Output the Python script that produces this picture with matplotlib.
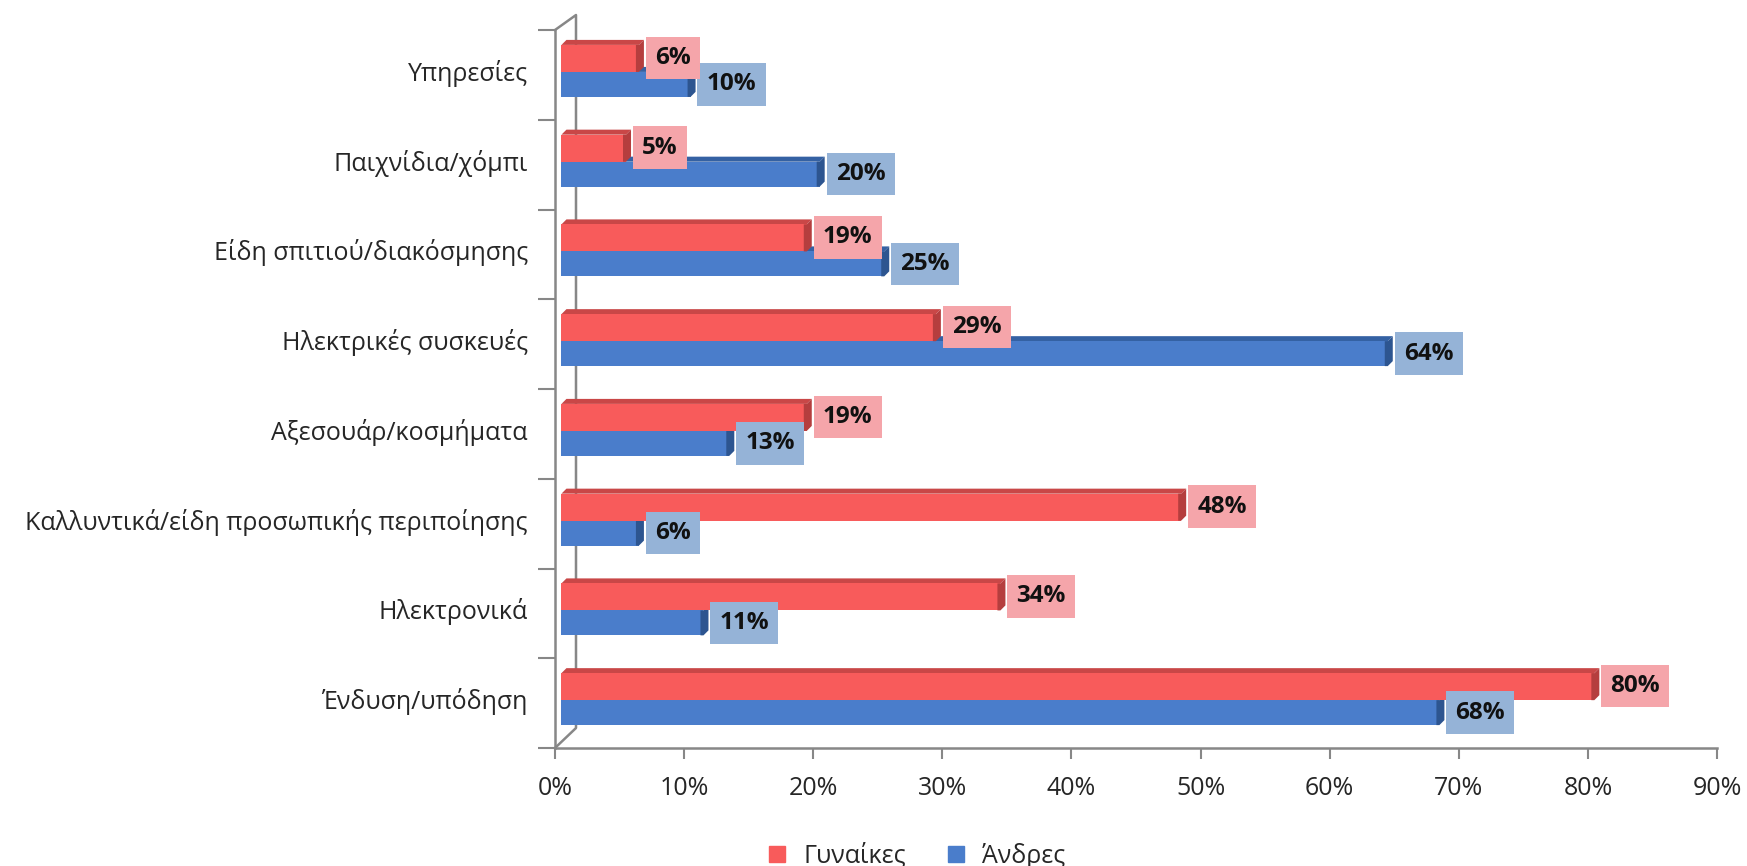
import matplotlib.pyplot as plt
from matplotlib.patches import Polygon
from matplotlib.lines import Line2D
import numpy as np

plt.rcParams['font.family'] = ['Open Sans', 'DejaVu Sans']

# categories listed bottom to top
categories = ['Ένδυση/υπόδηση', 'Ηλεκτρονικά',
              'Καλλυντικά/είδη προσωπικής περιποίησης', 'Αξεσουάρ/κοσμήματα',
              'Ηλεκτρικές συσκευές', 'Είδη σπιτιού/διακόσμησης',
              'Παιχνίδια/χόμπι', 'Υπηρεσίες']
women = [80, 34, 48, 19, 29, 19, 5, 6]
men = [68, 11, 6, 13, 64, 25, 20, 10]
series_names = ['Γυναίκες', 'Άνδρες']
xticks = [0, 10, 20, 30, 40, 50, 60, 70, 80, 90]

W, H = 1747, 866
fig = plt.figure(figsize=(W / 100, H / 100), dpi=100)
x0, x1, y0, y1 = 555, 1717, 30, 748
ax = fig.add_axes([x0 / W, 1 - y1 / H, (x1 - x0) / W, (y1 - y0) / H])
ax.set_xlim(0, 90)
ax.set_ylim(-0.5, len(categories) - 0.5)

px_x = 90 / (x1 - x0)            # data units per pixel, x
px_y = len(categories) / (y1 - y0)  # data units per pixel, y

grey = '#878787'
depth_x, depth_y = 5 * px_x, 5 * px_y
start = 0.5

def bar3d(yb, yt, v, front, top, cap):
    xe = start + v
    ax.add_patch(Polygon([(start, yt), (start + depth_x, yt + depth_y),
                          (xe + depth_x, yt + depth_y), (xe, yt)],
                         closed=True, fc=top, ec='none', zorder=3))
    ax.add_patch(Polygon([(start, yb), (xe, yb), (xe, yt), (start, yt)],
                         closed=True, fc=front, ec='none', zorder=3))
    ax.add_patch(Polygon([(xe - 3 * px_x, yb), (xe, yb),
                          (xe + depth_x, yb + depth_y),
                          (xe + depth_x, yt + depth_y), (xe, yt),
                          (xe - 3 * px_x, yt)],
                         closed=True, fc=cap, ec='none', zorder=3))
    return xe + depth_x

label_kw = dict(textcoords='offset points', ha='left', va='center',
                fontsize=17.5, fontweight='bold', color='#111111')

ypos = np.arange(len(categories))
for i, c in enumerate(ypos):
    # men (lower bar) drawn first, women bar in front of its top face
    xe = bar3d(c - 0.245, c + 0.033, men[i], '#4A7DCB', '#3461A3', '#2D5590')
    ax.annotate(f'{men[i]}%', (xe, c - 0.106), xytext=(8, 0), zorder=5,
                bbox=dict(boxstyle='square,pad=0.38', fc='#95B3D7', ec='none'),
                **label_kw)
    xe = bar3d(c + 0.033, c + 0.334, women[i], '#F85B5B', '#C94747', '#B53E3E')
    ax.annotate(f'{women[i]}%', (xe, c + 0.19), xytext=(8, 0), zorder=6,
                bbox=dict(boxstyle='square,pad=0.38', fc='#F5A5AA', ec='none'),
                **label_kw)

# back wall of the 3-D frame
wx, wy_top, wy_bot = 21 * px_x, 15 * px_y, 20 * px_y
top_y = len(categories) - 0.5
ax.plot([0, wx, wx, 0], [top_y, top_y + wy_top, -0.5 + wy_bot, -0.5],
        color=grey, lw=1.8, clip_on=False, zorder=2)

for side in ['top', 'right']:
    ax.spines[side].set_visible(False)
for side in ['left', 'bottom']:
    ax.spines[side].set_color(grey)
    ax.spines[side].set_linewidth(1.8)

ax.set_yticks(np.arange(-0.5, len(categories)), labels=[])
ax.set_yticks(ypos + 0.05, labels=categories, minor=True)
ax.tick_params(axis='y', which='major', length=12, width=1.5, color=grey)
ax.tick_params(axis='y', which='minor', length=0, pad=19.5,
               labelsize=18, labelcolor='#262626')

ax.set_xticks(xticks, labels=[f'{t}%' for t in xticks])
ax.tick_params(axis='x', length=8, width=1.5, color=grey, pad=12,
               labelsize=18, labelcolor='#262626')

handles = [Line2D([], [], ls='none', marker='s', ms=11, color='#F85B5B'),
           Line2D([], [], ls='none', marker='s', ms=11, color='#4A7DCB')]
fig.legend(handles, series_names, loc='center', bbox_to_anchor=(0.52, 0.012),
           ncol=2, frameon=False, fontsize=18, handletextpad=0.05,
           columnspacing=1.0, labelcolor='#262626')

fig.savefig('out.png', dpi=100)
